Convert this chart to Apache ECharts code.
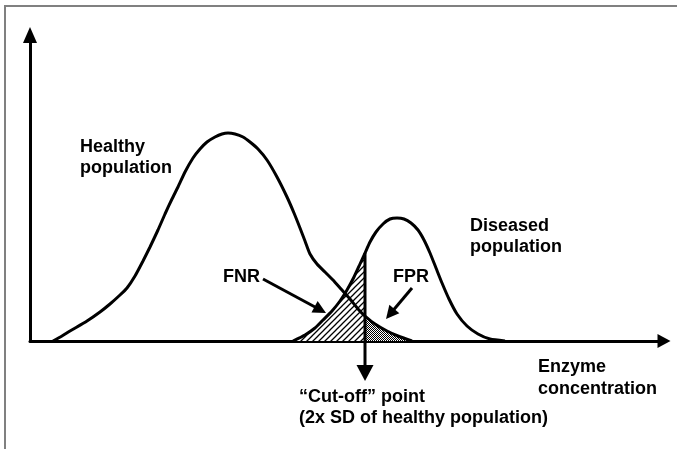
<!DOCTYPE html>
<html>
<head>
<meta charset="utf-8">
<script src="https://cdn.jsdelivr.net/npm/echarts@6/dist/echarts.min.js"></script>
<style>
html,body{margin:0;padding:0;background:#fff;}
#chart{width:677px;height:449px;}
</style>
</head>
<body>
<div id="chart"></div>
<script>
// Enzyme concentration (arbitrary units) vs frequency (arbitrary units)
const healthy = [
  [23,0],[32,5],[40,10],[57,20],[70,29],[80,37],[90,46],[97,53],[105,65],[113,80],
  [120,94],[128,111],[135,127],[142,142],[148,154],[155,169],[163,183],[170,192],[177,199],[185,204],
  [192,207],[198,208],[205,207],[213,204],[220,199],[228,192],[237,181],[247,164],[257,144],[264,128],
  [270,113],[275,100],[280,87],[287,77],[295,69],[303,61],[311,52],[320,42],[328,32],[335,25],
  [345,17],[357,10],[368,5],[382,0]
];
const diseased = [
  [263,0],[275,6],[285,13],[293,21],[302,30],[310,40],[317,51],[324,64],[330,77],[335,88],
  [340,99],[346,109],[353,117],[360,122],[367,123],[374,122],[381,118],[388,111],[394,101],[400,88],
  [406,73],[412,58],[419,42],[427,27],[437,15],[448,7],[460,2],[475,0]
];
const cutoff = 335;
const labels = {
  healthy: 'Healthy\npopulation',
  diseased: 'Diseased\npopulation',
  fnr: 'FNR',
  fpr: 'FPR',
  xAxis: 'Enzyme\nconcentration',
  cutoff: '\u201cCut-off\u201d point\n(2x SD of healthy population)'
};

function makeHatch(){
  const c = document.createElement('canvas');
  c.width = 6; c.height = 6;
  const g = c.getContext('2d');
  g.fillStyle = '#fff'; g.fillRect(0,0,6,6);
  g.strokeStyle = '#000'; g.lineWidth = 1.3;
  g.beginPath();
  g.moveTo(-1,7); g.lineTo(7,-1);
  g.moveTo(-1,1); g.lineTo(1,-1);
  g.moveTo(5,7); g.lineTo(7,5);
  g.stroke();
  return c;
}
function makeDots(){
  const c = document.createElement('canvas');
  c.width = 2; c.height = 2;
  const g = c.getContext('2d');
  g.fillStyle = '#fff'; g.fillRect(0,0,2,2);
  g.fillStyle = '#000';
  g.fillRect(0,0,1,1); g.fillRect(1,1,1,1);
  return c;
}
function arrow(x1,y1,x2,y2,headLen,headHalf,lw){
  const dx=x2-x1, dy=y2-y1, L=Math.hypot(dx,dy);
  const ux=dx/L, uy=dy/L;
  const bx=x2-ux*headLen, by=y2-uy*headLen;
  const px=-uy, py=ux;
  return [
    {type:'line', shape:{x1:x1,y1:y1,x2:bx+ux,y2:by+uy}, style:{stroke:'#000',lineWidth:lw}},
    {type:'polygon', shape:{points:[[x2,y2],[bx+px*headHalf,by+py*headHalf],[bx-px*headHalf,by-py*headHalf]]}, style:{fill:'#000'}}
  ];
}
const font = 'bold 18px "Liberation Sans", Arial, sans-serif';
function txt(text,x,y,lh){
  return {type:'text', x:x, y:y, z:20, style:{text:text, font:font, fill:'#000', align:'left', verticalAlign:'middle', lineHeight:lh||21}};
}

const chart = echarts.init(document.getElementById('chart'), null, {renderer:'canvas'});
const cutTop = diseased.find(p => p[0] === cutoff)[1];

const option = {
  animation:false,
  backgroundColor:'#fff',
  grid:{left:30,right:13,top:35,bottom:108,containLabel:false,outerBoundsMode:'none'},
  xAxis:{type:'value',min:0,max:634,
    axisLine:{show:true,symbol:['none','triangle'],symbolSize:[14,13],lineStyle:{color:'#000',width:3}},
    axisTick:{show:false},axisLabel:{show:false},splitLine:{show:false}},
  yAxis:{type:'value',min:0,max:306,
    axisLine:{show:true,symbol:['none','triangle'],symbolSize:[14,16],lineStyle:{color:'#000',width:3}},
    axisTick:{show:false},axisLabel:{show:false},splitLine:{show:false}},
  graphic:[
    {type:'rect', shape:{x:5,y:6,width:800,height:600}, style:{fill:'none',stroke:'#808080',lineWidth:2}, z:0},
    txt(labels.healthy,80,157.5),
    txt(labels.diseased,470,237),
    txt(labels.fnr,223,277.5),
    txt(labels.fpr,393,277.5),
    txt(labels.xAxis,538,378.5,22),
    txt(labels.cutoff,299,408),
    ...arrow(263,279,326,313,13,6.5,3),
    ...arrow(412,288,386,319,13,6.5,3)
  ],
  series:[
    {type:'line', data:diseased.filter(p=>p[0]<=cutoff), showSymbol:false, smooth:0.2, z:1,
      lineStyle:{width:0}, areaStyle:{color:{image:makeHatch(),repeat:'repeat'},opacity:1}},
    {type:'line', data:healthy.filter(p=>p[0]>=cutoff), showSymbol:false, smooth:0.2, z:1,
      lineStyle:{width:0}, areaStyle:{color:{image:makeDots(),repeat:'repeat'},opacity:1}},
    {type:'line', data:healthy, showSymbol:false, smooth:0.2, z:3, lineStyle:{color:'#000',width:3}},
    {type:'line', data:diseased, showSymbol:false, smooth:0.2, z:3, lineStyle:{color:'#000',width:3}},
    {type:'custom', z:4, data:[[cutoff,cutTop]],
      renderItem:function(params,api){
        const top = api.coord([api.value(0), api.value(1)]);
        const base = api.coord([api.value(0), 0]);
        const lineEnd = base[1]+24, tip = base[1]+40;
        return {type:'group', children:[
          {type:'line', shape:{x1:top[0],y1:top[1],x2:top[0],y2:lineEnd+1}, style:{stroke:'#000',lineWidth:3}},
          {type:'polygon', shape:{points:[[top[0]-8.5,lineEnd],[top[0]+8.5,lineEnd],[top[0],tip]]}, style:{fill:'#000'}}
        ]};
      }}
  ]
};
chart.setOption(option);
</script>
</body>
</html>
